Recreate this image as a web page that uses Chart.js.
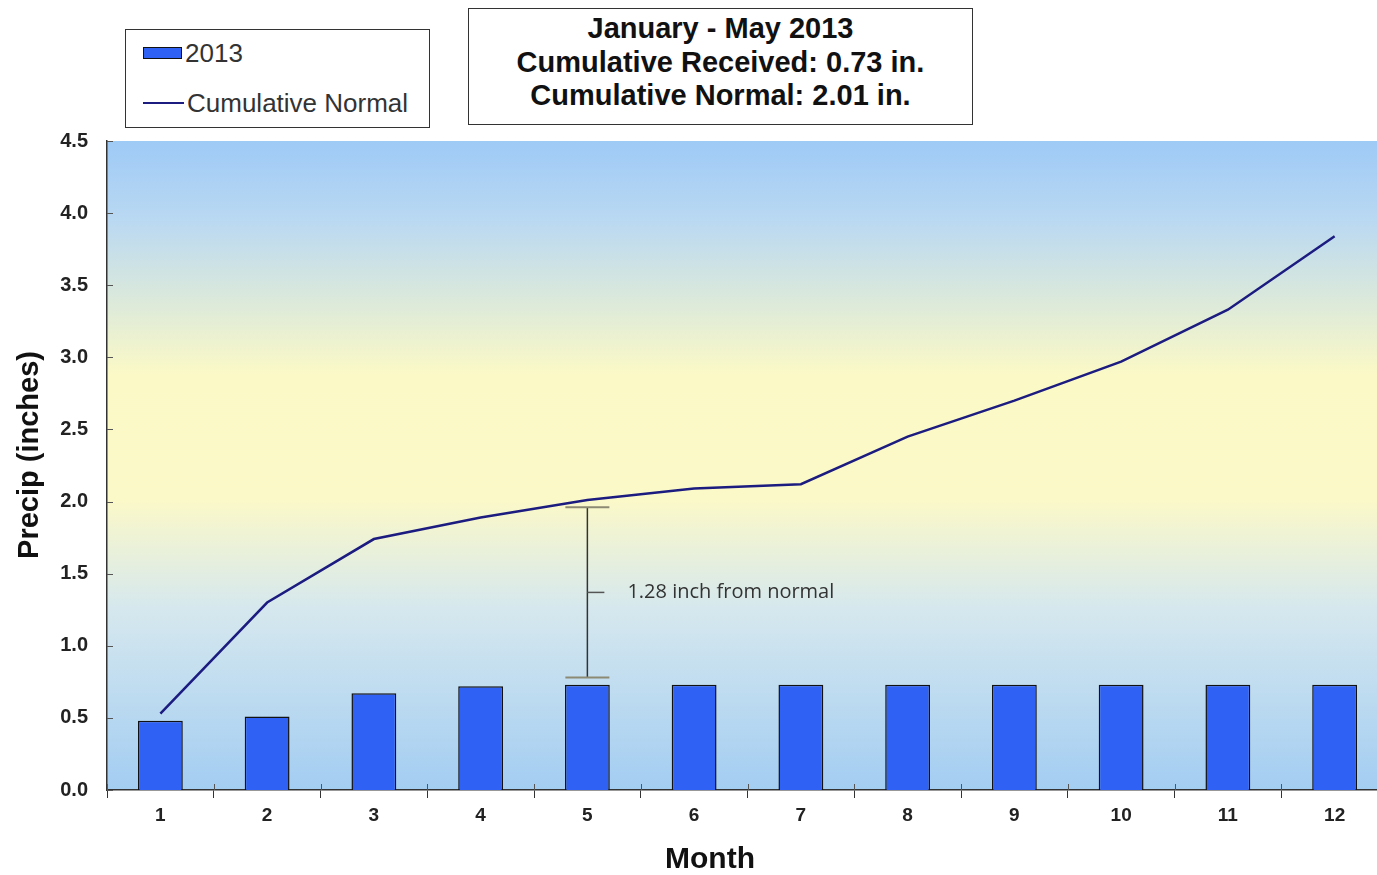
<!DOCTYPE html>
<html>
<head>
<meta charset="utf-8">
<script src="https://cdn.jsdelivr.net/npm/chart.js@4.4.0/dist/chart.umd.min.js"></script>
<style>
  html, body { margin: 0; padding: 0; overflow: hidden; background: #fff; width: 1377px; height: 875px; }
  #wrap { position: absolute; left: 0; top: 0; width: 1388px; height: 875px; }
  .box { position: absolute; background: #fff; border: 1.5px solid #333; box-sizing: border-box; }
  #legend { left: 125px; top: 29px; width: 305px; height: 99px; font-family: "Liberation Sans", Arial, sans-serif; color: #333; font-size: 26px; }
  #legend .row { position: absolute; left: 17px; height: 30px; display: flex; align-items: center; transform: translateY(-50%); }
  #legend .sw1 { width: 39px; height: 12px; background: #2f62f4; border: 1.5px solid #111; box-sizing: border-box; margin-right: 3px; }
  #legend .sw2 { width: 41px; height: 2.5px; background: #1c1c80; margin-right: 3px; }
  #titlebox { left: 468px; top: 8px; width: 505px; height: 117px; font-family: "Liberation Sans", Arial, sans-serif; font-weight: bold; font-size: 29px; color: #111; text-align: center; }
  #titlebox div { position: absolute; left: 0; right: 0; height: 30px; line-height: 30px; white-space: nowrap; }
</style>
</head>
<body>
<div id="wrap"><canvas id="c"></canvas></div>
<div id="legend" class="box">
  <div class="row" style="top:23px;"><span class="sw1"></span><span>2013</span></div>
  <div class="row" style="top:73px;"><span class="sw2"></span><span>Cumulative Normal</span></div>
</div>
<div id="titlebox" class="box">
  <div style="top:4px;">January - May 2013</div>
  <div style="top:38px;">Cumulative Received: 0.73 in.</div>
  <div style="top:71px;">Cumulative Normal: 2.01 in.</div>
</div>
<script>
const months = ['1','2','3','4','5','6','7','8','9','10','11','12'];
const precip2013 = [0.48, 0.51, 0.67, 0.72, 0.73, 0.73, 0.73, 0.73, 0.73, 0.73, 0.73, 0.73];
const cumulativeNormal = [0.53, 1.30, 1.74, 1.89, 2.01, 2.09, 2.12, 2.45, 2.70, 2.97, 3.33, 3.84];
const yTicks = [0, 0.5, 1.0, 1.5, 2.0, 2.5, 3.0, 3.5, 4.0, 4.5];
// annotation: gap between received and normal at month 5
const gapMonthIndex = 4;
const gapLow = 0.78;
const gapHigh = 1.96;
const gapLabel = '1.28 inch from normal';
const xTitle = 'Month';
const yTitle = 'Precip (inches)';

const bgPlugin = {
  id: 'bg',
  beforeDraw(chart) {
    const { ctx, chartArea: a } = chart;
    ctx.save();
    ctx.fillStyle = '#fff';
    ctx.fillRect(0, 0, chart.width, chart.height);
    const g = ctx.createLinearGradient(0, a.top, 0, a.bottom);
    g.addColorStop(0, '#9ecaf6');
    g.addColorStop(0.12, '#b9d8f2');
    g.addColorStop(0.36, '#fbf9c6');
    g.addColorStop(0.55, '#fcf9c8');
    g.addColorStop(0.72, '#d6e8ee');
    g.addColorStop(1, '#a3cdf2');
    ctx.fillStyle = g;
    ctx.fillRect(a.left, a.top, a.right - a.left, a.bottom - a.top);
    ctx.restore();
  },
  afterDraw(chart) {
    const { ctx, chartArea: a, scales: { x, y } } = chart;
    ctx.save();
    // inner y ticks
    ctx.strokeStyle = '#555';
    ctx.lineWidth = 1;
    yTicks.forEach(v => {
      const py = Math.round(y.getPixelForValue(v)) + 0.5;
      ctx.beginPath(); ctx.moveTo(a.left, py); ctx.lineTo(a.left + 6, py); ctx.stroke();
    });
    // x ticks extend above axis a bit
    for (let i = 0; i <= months.length; i++) {
      const px = Math.round(x.getPixelForValue(i - 0.5)) + 0.5;
      ctx.beginPath(); ctx.moveTo(px, a.bottom - 6); ctx.lineTo(px, a.bottom); ctx.stroke();
    }
    // annotation bracket
    const cx = x.getPixelForValue(gapMonthIndex);
    const yh = y.getPixelForValue(gapHigh);
    const yl = y.getPixelForValue(gapLow);
    const ym = (yh + yl) / 2;
    ctx.strokeStyle = '#333';
    ctx.lineWidth = 1.5;
    ctx.beginPath(); ctx.moveTo(cx, yh); ctx.lineTo(cx, yl); ctx.stroke();
    ctx.strokeStyle = '#8c8a72';
    ctx.lineWidth = 2;
    ctx.beginPath(); ctx.moveTo(cx - 22, yh); ctx.lineTo(cx + 22, yh); ctx.stroke();
    ctx.beginPath(); ctx.moveTo(cx - 22, yl); ctx.lineTo(cx + 22, yl); ctx.stroke();
    ctx.strokeStyle = '#555';
    ctx.lineWidth = 1.5;
    ctx.beginPath(); ctx.moveTo(cx, ym); ctx.lineTo(cx + 17, ym); ctx.stroke();
    ctx.fillStyle = '#333';
    ctx.font = '20px "Open Sans", "DejaVu Sans", sans-serif';
    ctx.textBaseline = 'middle';
    ctx.textAlign = 'left';
    ctx.fillText(gapLabel, cx + 40, ym);
    // axis titles
    ctx.fillStyle = '#111';
    ctx.textAlign = 'center';
    ctx.font = 'bold 30px "Liberation Sans", Arial, sans-serif';
    ctx.fillText(xTitle, 710, 860);
    ctx.translate(30, 455);
    ctx.rotate(-Math.PI / 2);
    ctx.font = 'bold 29px "Liberation Sans", Arial, sans-serif';
    ctx.fillText(yTitle, 0, 0);
    ctx.restore();
  }
};

new Chart(document.getElementById('c'), {
  data: {
    labels: months,
    datasets: [
      {
        type: 'line',
        label: 'Cumulative Normal',
        data: cumulativeNormal,
        borderColor: '#1c1c80',
        borderWidth: 2.5,
        pointRadius: 0,
        tension: 0,
        fill: false,
        order: 0
      },
      {
        type: 'bar',
        label: '2013',
        data: precip2013,
        backgroundColor: '#2f62f4',
        borderColor: '#111',
        borderWidth: 1.5,
        barPercentage: 0.42,
        categoryPercentage: 1.0,
        order: 1
      }
    ]
  },
  options: {
    responsive: true,
    maintainAspectRatio: false,
    animation: false,
    layout: { padding: { top: 141, left: 0, right: 0, bottom: 0 } },
    plugins: { legend: { display: false }, tooltip: { enabled: false }, title: { display: false } },
    scales: {
      x: {
        offset: true,
        grid: { display: true, drawOnChartArea: false, offset: true, tickLength: 8, color: '#333', tickWidth: 1 },
        border: { display: true, color: '#333', width: 1.5 },
        ticks: { color: '#222', font: { family: '"Liberation Sans", Arial, sans-serif', size: 19, weight: 'bold' }, padding: 6, maxRotation: 0 },
        title: { display: false },
        afterFit(s) { s.height = 85; }
      },
      y: {
        min: 0, max: 4.5,
        afterBuildTicks(s) { s.ticks = yTicks.map(v => ({ value: v })); },
        grid: { display: false, drawTicks: false },
        border: { display: true, color: '#333', width: 1.5 },
        ticks: { color: '#222', font: { family: '"Liberation Sans", Arial, sans-serif', size: 20, weight: 'bold' }, padding: 19, callback: v => Number(v).toFixed(1) },
        title: { display: false },
        afterFit(s) { s.width = 107; }
      }
    }
  },
  plugins: [bgPlugin]
});
</script>
</body>
</html>
